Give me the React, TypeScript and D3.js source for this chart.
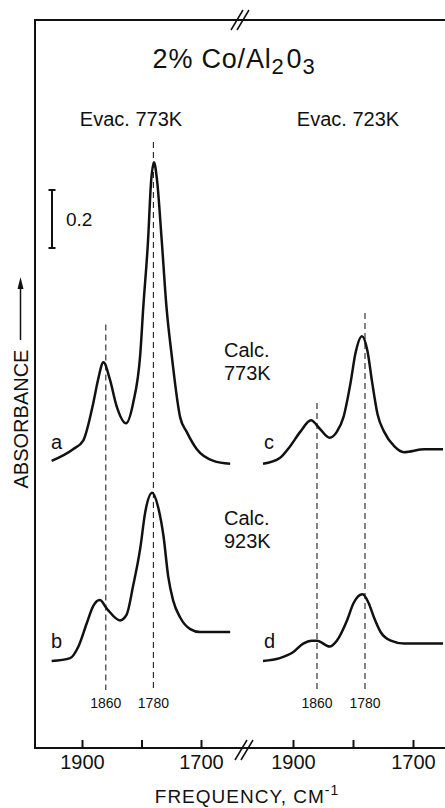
import React, { useEffect, useRef } from 'react';
import * as d3 from 'd3';

// spectra (frequency in cm-1, absorbance above each trace's own baseline)
const freqA = [1951, 1915, 1898, 1881, 1873, 1864, 1853, 1842, 1826, 1814, 1802, 1797, 1789, 1784, 1779, 1774, 1766, 1758, 1749, 1735, 1724, 1707, 1679, 1651];
const absA = [0.01, 0.05, 0.08, 0.21, 0.29, 0.35, 0.29, 0.2, 0.14, 0.21, 0.38, 0.54, 0.77, 0.97, 1.04, 0.98, 0.77, 0.54, 0.37, 0.16, 0.11, 0.05, 0.01, 0.0];

const freqB = [1951, 1920, 1906, 1892, 1881, 1870, 1858, 1836, 1825, 1814, 1802, 1794, 1782, 1772, 1763, 1755, 1747, 1735, 1718, 1702, 1651];
const absB = [0.0, 0.01, 0.05, 0.13, 0.19, 0.21, 0.18, 0.14, 0.16, 0.26, 0.39, 0.51, 0.58, 0.53, 0.43, 0.29, 0.21, 0.15, 0.11, 0.1, 0.1];

const freqC = [1950, 1922, 1905, 1888, 1870, 1855, 1839, 1827, 1816, 1804, 1796, 1785, 1776, 1768, 1759, 1748, 1731, 1715, 1681, 1650];
const absC = [0.0, 0.02, 0.06, 0.11, 0.15, 0.12, 0.09, 0.11, 0.16, 0.28, 0.38, 0.44, 0.39, 0.28, 0.17, 0.11, 0.06, 0.04, 0.05, 0.05];

const freqD = [1950, 1922, 1900, 1883, 1869, 1860, 1839, 1827, 1810, 1799, 1784, 1774, 1765, 1754, 1737, 1715, 1650];
const absD = [0.0, 0.01, 0.03, 0.06, 0.07, 0.07, 0.05, 0.07, 0.14, 0.2, 0.23, 0.2, 0.15, 0.1, 0.07, 0.06, 0.06];

const traceLabels = ['a', 'b', 'c', 'd'];
const rowOffsets = [0.98, 0.3];
const peakFreqs = [1860, 1780];
const peakLabels = ['1860', '1780'];
const dashTopLeft = [1.46, 2.09];
const dashTopRight = [1.19, 1.5];
const dashBottom = 0.2;
const axisTicks = [1900, 1800, 1700];
const axisLabelled = [1900, 1700];
const panelTitles = ['Evac. 773K', 'Evac. 723K'];
const calcLabels = [['Calc.', '773K'], ['Calc.', '923K']];
const scaleBarBase = 1.724;
const scaleBarSize = 0.2;

const W = 445;
const H = 808;
const FONT = '"Liberation Sans", Arial, sans-serif';

export default function App() {
  const svgRef = useRef<SVGSVGElement>(null);

  useEffect(() => {
    if (!svgRef.current) return;
    const svg = d3.select(svgRef.current);
    svg.selectAll('*').remove();

    const frameLeft = 35;
    const frameTop = 20;
    const frameBottom = 748;

    const xLeft = d3.scaleLinear().domain([1900, 1700]).range([82, 201]);
    const xRight = d3.scaleLinear().domain([1900, 1700]).range([293, 413]);
    const y = d3.scaleLinear().domain([0, 2.5]).range([frameBottom, frameBottom - 2.5 * 290]);

    const g = svg.append('g').attr('font-family', FONT).attr('fill', '#111');

    // frame
    g.append('path')
      .attr('d', `M${W},${frameTop}H${frameLeft}V${frameBottom}H${W}`)
      .attr('fill', 'none')
      .attr('stroke', '#111')
      .attr('stroke-width', 2);

    // axis break marks
    const brk = (cx: number, cy: number) => {
      [-3, 3].forEach(dx => {
        g.append('line')
          .attr('x1', cx + dx - 6).attr('y1', cy + 10)
          .attr('x2', cx + dx + 6).attr('y2', cy - 10)
          .attr('stroke', '#111').attr('stroke-width', 1.5);
      });
    };
    brk(240, frameTop);
    brk(244, frameBottom + 2);

    // bottom axes (1800 tick unlabelled)
    [xLeft, xRight].forEach(sc => {
      const ax = g.append('g')
        .attr('transform', `translate(0,${frameBottom})`)
        .call(d3.axisBottom(sc).tickValues(axisTicks).tickSize(-8).tickSizeOuter(0).tickPadding(7)
          .tickFormat((d: any) => (axisLabelled.includes(+d) ? d3.format('d')(+d) : '')));
      ax.select('.domain').remove();
      ax.selectAll('line').attr('stroke', '#111').attr('stroke-width', 2);
      ax.selectAll('text').attr('font-family', FONT).attr('font-size', 20).attr('fill', '#111');
    });

    // x-axis title
    const xt = g.append('text')
      .attr('x', 247).attr('y', 803)
      .attr('text-anchor', 'middle')
      .attr('font-size', 19)
      .attr('letter-spacing', 1);
    xt.append('tspan').text('FREQUENCY, CM');
    xt.append('tspan').attr('dy', -8).attr('font-size', 14).text('-1');

    // y-axis title and arrow
    g.append('text')
      .attr('transform', 'translate(28,419) rotate(-90)')
      .attr('text-anchor', 'middle')
      .attr('font-size', 20)
      .text('ABSORBANCE');
    g.append('line')
      .attr('x1', 20.5).attr('y1', 340).attr('x2', 20.5).attr('y2', 286)
      .attr('stroke', '#111').attr('stroke-width', 1.5);
    g.append('path')
      .attr('d', 'M20.5,277L17.5,289L23.5,289Z')
      .attr('fill', '#111');

    // main title
    const tt = g.append('text')
      .attr('x', 234).attr('y', 68)
      .attr('text-anchor', 'middle')
      .attr('font-size', 27)
      .attr('letter-spacing', 0.8);
    tt.append('tspan').text('2% Co/Al');
    tt.append('tspan').attr('dy', 6).attr('font-size', 22).text('2');
    tt.append('tspan').attr('dy', -6).attr('dx', 2).text('0');
    tt.append('tspan').attr('dy', 6).attr('font-size', 22).text('3');

    // panel titles
    panelTitles.forEach((t, i) => {
      g.append('text')
        .attr('x', i === 0 ? 131 : 348).attr('y', 126)
        .attr('text-anchor', 'middle')
        .attr('font-size', 20)
        .text(t);
    });

    // scale bar
    const sb0 = y(scaleBarBase);
    const sb1 = y(scaleBarBase + scaleBarSize);
    g.append('path')
      .attr('d', `M48.5,${sb1}H55.5M52,${sb1}V${sb0}M48.5,${sb0}H55.5`)
      .attr('stroke', '#111').attr('stroke-width', 2).attr('fill', 'none');
    g.append('text')
      .attr('x', 66).attr('y', (sb0 + sb1) / 2 + 7)
      .attr('font-size', 19)
      .text('0.2');

    // dashed peak markers
    [xLeft, xRight].forEach((sc, p) => {
      const tops = p === 0 ? dashTopLeft : dashTopRight;
      peakFreqs.forEach((f, i) => {
        g.append('line')
          .attr('x1', sc(f)).attr('x2', sc(f))
          .attr('y1', y(tops[i])).attr('y2', y(dashBottom))
          .attr('stroke', '#222')
          .attr('stroke-width', 1.1)
          .attr('stroke-dasharray', '6,4');
        g.append('text')
          .attr('x', sc(f)).attr('y', 708)
          .attr('text-anchor', 'middle')
          .attr('font-size', 14)
          .text(peakLabels[i]);
      });
    });

    // spectra
    const series = [
      { freq: freqA, abs: absA, x: xLeft, off: rowOffsets[0] },
      { freq: freqB, abs: absB, x: xLeft, off: rowOffsets[1] },
      { freq: freqC, abs: absC, x: xRight, off: rowOffsets[0] },
      { freq: freqD, abs: absD, x: xRight, off: rowOffsets[1] }
    ];
    series.forEach(s => {
      const pts = s.freq.map((f, i) => [f, s.abs[i]] as [number, number]);
      const line = d3.line<[number, number]>()
        .x(d => s.x(d[0]))
        .y(d => y(d[1] + s.off))
        .curve(d3.curveMonotoneX);
      g.append('path')
        .datum(pts)
        .attr('d', line)
        .attr('fill', 'none')
        .attr('stroke', '#111')
        .attr('stroke-width', 2.5)
        .attr('stroke-linejoin', 'round');
    });

    // trace letters
    traceLabels.forEach((l, i) => {
      const col = i < 2 ? 0 : 1;
      const row = i % 2;
      g.append('text')
        .attr('x', col === 0 ? 51 : 264)
        .attr('y', row === 0 ? 449 : 648)
        .attr('font-size', 20)
        .text(l);
    });

    // calcination labels
    calcLabels.forEach((lines, i) => {
      lines.forEach((t, j) => {
        g.append('text')
          .attr('x', 224)
          .attr('y', (i === 0 ? 357 : 525) + j * 23)
          .attr('font-size', 20)
          .text(t);
      });
    });
  }, []);

  return (
    <svg
      ref={svgRef}
      width={W}
      height={H}
      style={{ position: 'absolute', left: 0, top: 0, background: '#fff' }}
    />
  );
}
